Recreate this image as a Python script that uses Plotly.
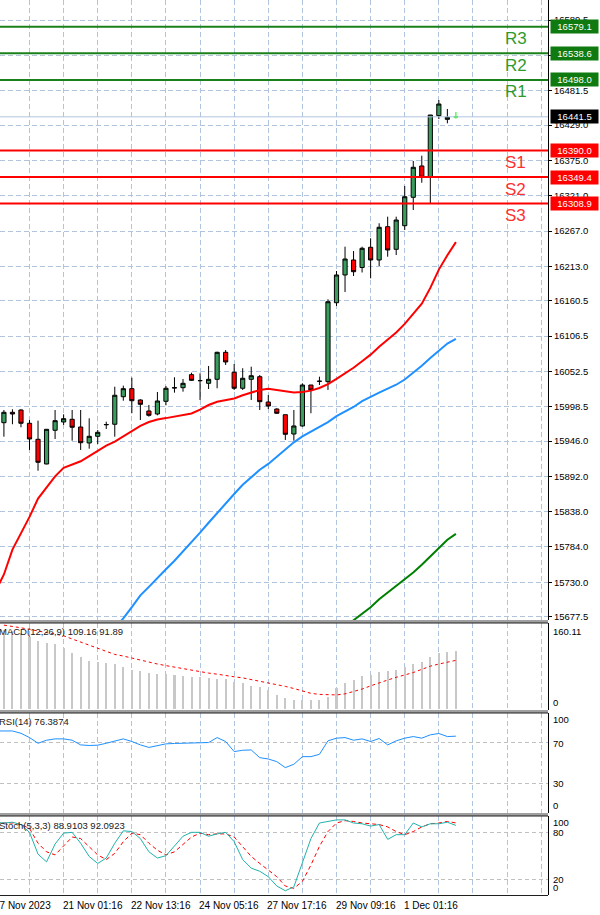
import plotly.graph_objects as go

# ---------------- data ----------------
bars = list(range(54))
opens = [15974.0, 15989.9, 15993.4, 15973.1, 15948.6, 15910.9, 15962.4, 15975.1, 15979.2, 15967.4,
         15943.0, 15953.2, 15970.8, 15971.6, 16013.7, 16026.0, 16008.7, 15991.9, 15987.3, 16006.7,
         16027.0, 16027.5, 16047.4, 16038.3, 16034.2, 16040.3, 16081.6, 16051.0, 16026.6, 16040.3,
         16044.3, 16005.6, 15994.9, 15986.2, 15956.7, 15969.0, 16031.6, 16037.3, 16036.7, 16157.4,
         16199.8, 16222.7, 16211.2, 16242.1, 16222.7, 16273.6, 16239.0, 16275.1, 16318.5, 16366.4,
         16350.0, 16443.3, 16437.7, 16441.5]
highs = [15993.4, 15994.5, 15994.5, 15978.1, 15977.1, 15964.4, 15993.4, 15986.8, 15993.4, 15993.4,
         15980.7, 15962.8, 15975.5, 16029.0, 16030.6, 16042.8, 16009.8, 16001.1, 16020.9, 16030.1,
         16043.4, 16040.8, 16050.4, 16049.5, 16060.7, 16082.5, 16085.1, 16063.7, 16057.2, 16059.6,
         16046.9, 16016.3, 15996.0, 15986.2, 15993.4, 16034.2, 16031.6, 16044.3, 16162.6, 16205.9,
         16243.0, 16236.4, 16243.0, 16255.9, 16278.8, 16288.9, 16288.9, 16335.8, 16374.0, 16382.1,
         16444.3, 16467.2, 16453.5, 16448.9]
lows = [15952.6, 15971.6, 15967.0, 15932.3, 15900.6, 15910.4, 15949.1, 15970.5, 15946.5, 15932.3,
        15934.3, 15941.4, 15964.4, 15952.6, 16007.6, 15988.4, 15978.1, 15983.2, 15985.3, 16000.6,
        16019.9, 16021.4, 16038.2, 16008.7, 16025.5, 16026.6, 16062.2, 16024.0, 16024.0, 16008.7,
        15993.4, 15994.9, 15987.3, 15947.6, 15946.5, 15967.9, 15988.4, 16031.6, 16024.0, 16152.4,
        16173.8, 16198.2, 16203.6, 16194.7, 16213.5, 16227.7, 16230.3, 16268.5, 16299.1, 16340.8,
        16309.4, 16438.2, 16431.6, 16438.7]
closes = [15989.9, 15987.3, 15973.1, 15949.1, 15913.5, 15963.9, 15977.1, 15980.1, 15967.0, 15943.4,
          15953.2, 15959.3, 15971.2, 16015.9, 16026.0, 16007.6, 16002.1, 15985.3, 16007.2, 16026.6,
          16027.5, 16034.2, 16038.8, 16038.3, 16040.3, 16081.6, 16066.8, 16026.6, 16041.9, 16045.8,
          16006.1, 15999.5, 15988.4, 15956.3, 15969.0, 16031.6, 16024.0, 16037.3, 16158.9, 16199.8,
          16224.2, 16204.8, 16240.6, 16222.7, 16272.7, 16238.0, 16283.8, 16319.4, 16364.4, 16349.1,
          16444.3, 16461.1, 16440.8, 16441.5]

ma_red_bars = list(range(-1, 54))
ma_red = [15716, 15742, 15780, 15805, 15830, 15858, 15875, 15892, 15905, 15910, 15915,
          15923, 15931, 15939, 15945, 15953, 15962, 15969, 15975, 15979, 15981,
          15983, 15986, 15988, 15994, 16001, 16006, 16009, 16011, 16016, 16020,
          16024, 16026, 16024, 16021, 16020, 16021, 16023, 16027, 16033, 16041,
          16049, 16058, 16068, 16078, 16090, 16101, 16112, 16125, 16140, 16156,
          16180, 16208, 16230, 16250]
ma_blue_bars = list(range(13, 54))
ma_blue = [15660, 15675, 15692, 15710, 15723, 15737, 15750, 15763, 15777, 15791,
           15806, 15821, 15836, 15851, 15865, 15879, 15891, 15902, 15911, 15922,
           15934, 15944, 15953, 15960, 15967, 15975, 15984, 15991, 15998, 16007,
           16014, 16020, 16026, 16032, 16040, 16050, 16061, 16073, 16084, 16095, 16102]
ma_green_bars = list(range(40, 54))
ma_green = [15662, 15672, 15682, 15692, 15704, 15714, 15724, 15734, 15745, 15757,
            15770, 15782, 15795, 15804]

level_names = ["R3", "R2", "R1", "S1", "S2", "S3"]
level_values = [16579.1, 16538.6, 16498.0, 16390.0, 16349.4, 16308.9]
last_price = 16441.5

price_ticks = [15677.5, 15730.0, 15784.0, 15838.0, 15892.0, 15946.0, 15998.5, 16052.5, 16106.5,
               16160.5, 16213.0, 16267.0, 16321.0, 16375.0, 16429.0, 16481.5, 16535.5, 16589.5]

macd_hist = [149.5, 146.3, 143.2, 135.0, 127.5, 124.3, 123.1, 114.9, 105.5, 97.3,
             91.1, 87.9, 86.7, 84.8, 78.5, 74.1, 71.0, 67.8, 66.6, 65.9,
             64.7, 62.8, 61.5, 60.9, 58.4, 57.1, 56.5, 52.1, 49.0, 44.6,
             42.7, 36.4, 27.0, 20.7, 17.6, 17.6, 17.6, 17.6, 23.9, 39.6,
             49.0, 55.3, 62.2, 64.7, 69.7, 72.8, 74.1, 78.5, 84.8, 87.9,
             97.3, 105.5, 107.4, 109.16]
macd_signal = [158, 156, 153, 150, 147, 144, 141, 138, 132, 126,
               120, 114, 108, 103, 100, 96, 92, 89, 85, 82,
               79, 76, 73, 71, 68, 66, 63, 61, 59, 56,
               53, 50, 47, 43, 39, 34, 30, 28, 27, 27,
               29, 33, 38, 44, 50, 55, 60, 64, 69, 75,
               81, 85, 89, 91.89]

osc_bars = list(range(-1, 54))
rsi = [81.5, 81.5, 81.5, 79.2, 75.0, 69.4, 72.4, 73.7, 73.7, 72.4, 67.8,
       67.2, 67.5, 69.4, 71.8, 73.7, 71.1, 67.8, 65.3, 67.2, 68.8,
       69.2, 69.4, 69.7, 69.7, 70.1, 75.0, 71.1, 61.2, 62.5, 62.8,
       55.2, 53.9, 51.3, 45.4, 48.7, 56.2, 56.2, 58.5, 71.8, 74.4,
       75.0, 72.4, 73.7, 71.1, 74.1, 67.8, 71.8, 74.4, 76.0, 74.4,
       77.7, 79.0, 76.0, 76.39]
stoch_main = [93, 92, 93, 90, 80, 52, 42, 65, 79, 80, 66,
              49, 40, 47, 66, 82, 81, 72, 55, 47, 50,
              62, 75, 80, 80, 75, 78, 80, 68, 45, 34,
              30, 23, 11, 5, 10, 42, 72, 92, 94, 96,
              96, 92, 91, 88, 90, 71, 77, 77, 92, 87,
              91, 91, 93, 88.91]
stoch_signal = [92, 92, 92, 90, 85, 66, 55, 51, 62, 74, 72,
                62, 51, 45, 53, 68, 79, 77, 66, 57, 51,
                55, 64, 74, 79, 77, 78, 78, 74, 62, 49,
                40, 32, 23, 11, 8, 17, 38, 62, 81, 92,
                95, 94, 92, 91, 90, 87, 81, 77, 81, 87,
                91, 92, 94, 92.09]

date_labels = ["17 Nov 2023", "21 Nov 01:16", "22 Nov 13:16", "24 Nov 05:16",
               "27 Nov 17:16", "29 Nov 09:16", "1 Dec 01:16"]
date_label_bars = [-1, 7, 15, 23, 31, 39, 47]

macd_title = "MACD(12,26,9) 109.16 91.89"
rsi_title = "RSI(14) 76.3874"
stoch_title = "Stoch(5,3,3) 88.9103 92.0923"

# ---------------- layout geometry ----------------
W, H = 600, 915
ML, MR, MT, MB = 0, 52, 0, 19
PH = H - MT - MB
PW = W - ML - MR
XR = [-0.46, 63.8]


def py(p):
    return 1 - (p - MT) / PH


def pxx(p):
    return (p - ML) / PW


def bar_paper(b):
    return (b - XR[0]) / (XR[1] - XR[0])


FONT = "Liberation Sans"
GRID = "#B0C4DE"
GREEN_C = "#3a9d5d"
RED_C = "#ff0000"

fig = go.Figure()

fig.add_trace(go.Candlestick(
    x=bars[:-1], open=opens[:-1], high=highs[:-1], low=lows[:-1], close=closes[:-1],
    increasing=dict(fillcolor=GREEN_C, line=dict(color="black", width=1)),
    decreasing=dict(fillcolor=RED_C, line=dict(color="black", width=1)),
    whiskerwidth=0, xaxis="x", yaxis="y", showlegend=False))
fig.add_trace(go.Candlestick(
    x=bars[-1:], open=opens[-1:], high=highs[-1:], low=lows[-1:], close=closes[-1:],
    increasing=dict(fillcolor="#00ff00", line=dict(color="#00ff00", width=1)),
    decreasing=dict(fillcolor="#00ff00", line=dict(color="#00ff00", width=1)),
    whiskerwidth=0, xaxis="x", yaxis="y", showlegend=False))

fig.add_trace(go.Scatter(x=ma_red_bars, y=ma_red, mode="lines",
                         line=dict(color="#ff0000", width=2), xaxis="x", yaxis="y", showlegend=False))
fig.add_trace(go.Scatter(x=ma_blue_bars, y=ma_blue, mode="lines",
                         line=dict(color="#1e90ff", width=2), xaxis="x", yaxis="y", showlegend=False))
fig.add_trace(go.Scatter(x=ma_green_bars, y=ma_green, mode="lines",
                         line=dict(color="#008000", width=2), xaxis="x", yaxis="y", showlegend=False))

fig.add_trace(go.Bar(x=bars, y=macd_hist, width=0.24, marker=dict(color="#c8c8c8", line=dict(width=0)),
                     xaxis="x2", yaxis="y2", showlegend=False))
fig.add_trace(go.Scatter(x=bars, y=macd_signal, mode="lines",
                         line=dict(color="#ff0000", width=1, dash="3px,3px"),
                         xaxis="x2", yaxis="y2", showlegend=False))

fig.add_trace(go.Scatter(x=osc_bars, y=rsi, mode="lines",
                         line=dict(color="#1e90ff", width=1), xaxis="x3", yaxis="y3", showlegend=False))

fig.add_trace(go.Scatter(x=osc_bars, y=stoch_signal, mode="lines",
                         line=dict(color="#ff0000", width=1, dash="4px,3px"),
                         xaxis="x4", yaxis="y4", showlegend=False))
fig.add_trace(go.Scatter(x=osc_bars, y=stoch_main, mode="lines",
                         line=dict(color="#20b2aa", width=1), xaxis="x4", yaxis="y4", showlegend=False))

grid_x = list(range(3, 64, 4))
xax = dict(range=XR, tickvals=grid_x, showticklabels=False, showgrid=True, gridcolor=GRID,
           griddash="5px,3px", gridwidth=1, zeroline=False, showline=False, ticks="",
           rangeslider=dict(visible=False), fixedrange=True)

dom_main = [py(620), 1]
dom_macd = [py(710), py(623)]
dom_rsi = [py(813), py(713)]
dom_stoch = [py(895), py(816)]

yax_common = dict(side="right", showline=True, linecolor="black", linewidth=1, zeroline=False,
                  fixedrange=True)

fig.update_layout(
    width=W, height=H,
    margin=dict(l=ML, r=MR, t=MT, b=MB),
    paper_bgcolor="white", plot_bgcolor="white",
    font=dict(family=FONT, size=10, color="black"),
    showlegend=False,
    bargap=0,
    xaxis=dict(xax, anchor="y", domain=[0, 1]),
    xaxis2=dict(xax, anchor="y2", domain=[0, 1]),
    xaxis3=dict(xax, anchor="y3", domain=[0, 1]),
    xaxis4=dict(xax, anchor="y4", domain=[0, 1]),
    yaxis=dict(yax_common, domain=dom_main, range=[15672.4, 16620.1], tickvals=price_ticks,
               ticktext=["%.1f" % v for v in price_ticks], ticks="outside", ticklen=3,
               tickcolor="black", showgrid=True, gridcolor=GRID, griddash="5px,3px",
               tickfont=dict(family=FONT, size=9.5, color="black"), anchor="x"),
    yaxis2=dict(yax_common, domain=dom_macd, range=[-1.3, 162], showgrid=False,
                showticklabels=False, anchor="x2"),
    yaxis3=dict(yax_common, domain=dom_rsi, range=[0.7, 99.2], tickvals=[30, 70],
                showgrid=True, gridcolor="#c0c0c0", griddash="4px,3px", showticklabels=False,
                anchor="x3"),
    yaxis4=dict(yax_common, domain=dom_stoch, range=[-0.5, 101], tickvals=[20, 80],
                showgrid=True, gridcolor="#c0c0c0", griddash="4px,3px", showticklabels=False,
                anchor="x4"),
)

# current price line and pivot levels
fig.add_shape(type="line", xref="paper", x0=0, x1=1, yref="y", y0=last_price, y1=last_price,
              line=dict(color="#b0c4de", width=1))
for name, val in zip(level_names, level_values):
    col = "#1a801a" if name.startswith("R") else "#ff0000"
    fig.add_shape(type="line", xref="paper", x0=0, x1=1, yref="y", y0=val, y1=val,
                  line=dict(color=col, width=2))

# panel separators
for top, bot in [(620, 623), (710, 713), (813, 816)]:
    fig.add_shape(type="rect", xref="paper", yref="paper", x0=0, x1=1, y0=py(bot), y1=py(top),
                  fillcolor="#a0a0a0", line=dict(width=0), layer="above")
    fig.add_shape(type="line", xref="paper", yref="paper", x0=0, x1=1, y0=py(bot), y1=py(bot),
                  line=dict(color="#202020", width=1), layer="above")
fig.add_shape(type="line", xref="paper", yref="paper", x0=0, x1=1, y0=py(895.5), y1=py(895.5),
              line=dict(color="#202020", width=1), layer="above")

ann = []
# level labels
for name, val in zip(level_names, level_values):
    col = "#2f9a2f" if name.startswith("R") else "#ff3030"
    ann.append(dict(text=name, xref="paper", x=pxx(503), xanchor="left", yref="y", y=val,
                    yshift=-12, yanchor="middle", showarrow=False,
                    font=dict(family=FONT, size=17, color=col)))
    bg = "#0f7a0f" if name.startswith("R") else "#ff0000"
    ann.append(dict(text="%.1f" % val, xref="paper", x=pxx(550), xanchor="left", yref="y", y=val,
                    yanchor="middle", showarrow=False, bgcolor=bg, width=45, height=11, borderpad=1,
                    align="center", font=dict(family=FONT, size=9.5, color="white")))
ann.append(dict(text="%.1f" % last_price, xref="paper", x=pxx(550), xanchor="left", yref="y",
                y=last_price, yanchor="middle", showarrow=False, bgcolor="black", width=45,
                height=11, borderpad=1, align="center",
                font=dict(family=FONT, size=9.5, color="white")))

# indicator titles
for txt, ypix in [(macd_title, 631.5), (rsi_title, 721.5), (stoch_title, 825)]:
    ann.append(dict(text=txt, xref="paper", x=pxx(-3), xanchor="left", yref="paper", y=py(ypix),
                    yanchor="middle", showarrow=False, font=dict(family=FONT, size=9.5, color="#202020")))

# sub-panel scale labels
for txt, ypix in [("160.11", 631), ("0", 702), ("100", 719), ("70", 743.3), ("30", 783.3),
                  ("0", 805.7), ("100", 822.7), ("80", 832.7), ("20", 879), ("0", 887.7)]:
    ann.append(dict(text=txt, xref="paper", x=pxx(551), xanchor="left", yref="paper", y=py(ypix),
                    yanchor="middle", showarrow=False, font=dict(family=FONT, size=9.5, color="black")))

# date labels
for txt, b in zip(date_labels, date_label_bars):
    ann.append(dict(text=txt, xref="paper", x=bar_paper(b), xshift=-3, xanchor="left",
                    yref="paper", y=py(905), yanchor="middle", showarrow=False,
                    font=dict(family=FONT, size=10, color="black")))

fig.update_layout(annotations=ann)

fig.write_html("out.html")
